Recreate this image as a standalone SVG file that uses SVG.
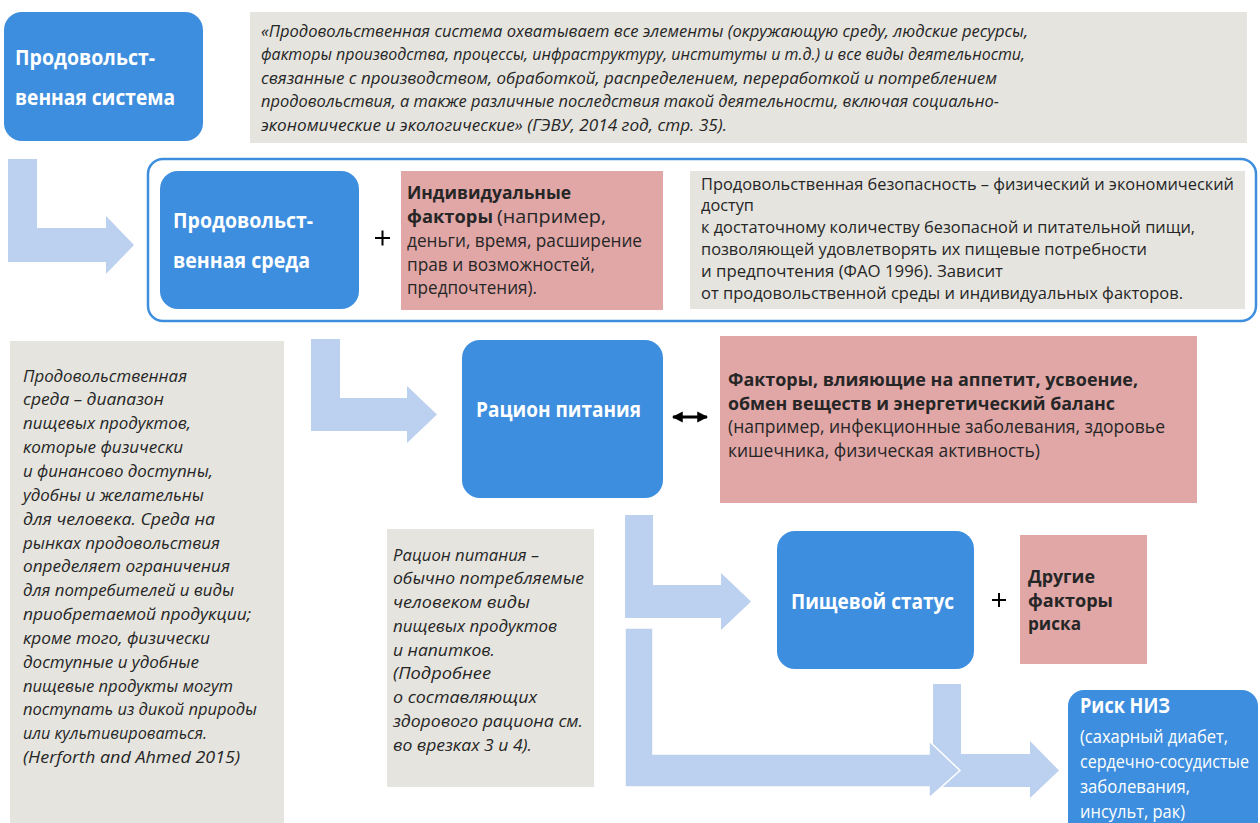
<svg xmlns="http://www.w3.org/2000/svg" width="1260" height="823" viewBox="0 0 1260 823">
<style>
.blue{fill:#3d8ede}
.gray{fill:#e5e4de}
.pink{fill:#e0a7a6}
.arr{fill:#bcd0ef}
.t{font-family:"Open Sans","Noto Sans","Liberation Sans",sans-serif;fill:#262626}
.it{font-style:italic;font-size:17px}
.sec{font-size:15.5px}
.n{font-size:17.5px}
.b{font-weight:bold}
.title{font-family:"Open Sans","Noto Sans","Liberation Sans",sans-serif;font-weight:bold;font-size:21px;fill:#ffffff}
.wt{font-family:"Open Sans","Noto Sans","Liberation Sans",sans-serif;font-size:18px;fill:#ffffff}
</style>
<defs>
<marker id="ah" viewBox="0 0 10 10" refX="9" refY="5" markerWidth="3.6" markerHeight="4" orient="auto-start-reverse" markerUnits="strokeWidth">
<path d="M0,0 L10,5 L0,10 Z" fill="#000"/>
</marker>
</defs>

<g id="connectors">
<polygon class="arr" points="8,159 37,159 37,228 106,228 106,216 134,245 106,274 106,262 8,262"/>
<polygon class="arr" points="311,339 340,339 340,398 407,398 407,386 437,414.5 407,443 407,431 311,431"/>
<polygon class="arr" points="625,515 653,515 653,585 721,585 721,573 751,601.5 721,630 721,618 625,618"/>
<polygon class="arr" points="933,684 961,684 961,754 1030,754 1030,741 1059,770.5 1030,798 1030,787 933,787"/>
<polygon class="arr" points="625,628 653,628 653,754 929,754 929,741 960,770.5 929,798 929,787 625,787" stroke="#ffffff" stroke-width="1.5"/>
<line x1="673" y1="417" x2="707" y2="417" stroke="#000" stroke-width="3" marker-start="url(#ah)" marker-end="url(#ah)"/>
</g>

<g id="food-system">
<rect class="blue" x="4" y="12" width="199" height="129" rx="18"/>
<text class="title" x="15" y="65" textLength="140" lengthAdjust="spacingAndGlyphs">Продовольст-</text>
<text class="title" x="15" y="105" textLength="160" lengthAdjust="spacingAndGlyphs">венная система</text>
</g>

<g id="quote">
<rect class="gray" x="250" y="12" width="997" height="131"/>
<text class="t it" x="261" y="36.5" textLength="767" lengthAdjust="spacingAndGlyphs">«Продовольственная система охватывает все элементы (окружающую среду, людские ресурсы,</text>
<text class="t it" x="261" y="60" textLength="764" lengthAdjust="spacingAndGlyphs">факторы производства, процессы, инфраструктуру, институты и т.д.) и все виды деятельности,</text>
<text class="t it" x="261" y="83.5" textLength="736" lengthAdjust="spacingAndGlyphs">связанные с производством, обработкой, распределением, переработкой и потреблением</text>
<text class="t it" x="261" y="107" textLength="738" lengthAdjust="spacingAndGlyphs">продовольствия, а также различные последствия такой деятельности, включая социально-</text>
<text class="t it" x="261" y="130.5" textLength="466" lengthAdjust="spacingAndGlyphs">экономические и экологические» (ГЭВУ, 2014 год, стр. 35).</text>
</g>

<g id="frame">
<rect x="148" y="159" width="1108" height="162" rx="15" fill="none" stroke="#3d8ede" stroke-width="2.5"/>
</g>

<g id="food-environment">
<rect class="blue" x="160" y="171" width="199" height="138" rx="18"/>
<text class="title" x="173" y="228" textLength="140" lengthAdjust="spacingAndGlyphs">Продовольст-</text>
<text class="title" x="173" y="268" textLength="137" lengthAdjust="spacingAndGlyphs">венная среда</text>
</g>

<g id="plus1">
<path d="M375,238 H390 M382.5,230.5 V245.5" stroke="#000" stroke-width="2"/>
</g>

<g id="individual-factors">
<rect class="pink" x="401" y="171" width="262" height="139"/>
<text class="t n b" x="407" y="199" textLength="164" lengthAdjust="spacingAndGlyphs">Индивидуальные</text>
<text class="t n b" x="407" y="223" textLength="86" lengthAdjust="spacingAndGlyphs">факторы</text>
<text class="t n" x="497" y="223" textLength="109" lengthAdjust="spacingAndGlyphs">(например,</text>
<text class="t n" x="407" y="247" textLength="235" lengthAdjust="spacingAndGlyphs">деньги, время, расширение</text>
<text class="t n" x="407" y="271" textLength="188" lengthAdjust="spacingAndGlyphs">прав и возможностей,</text>
<text class="t n" x="407" y="294" textLength="130" lengthAdjust="spacingAndGlyphs">предпочтения).</text>
</g>

<g id="food-security">
<rect class="gray" x="690" y="171" width="555" height="138"/>
<text class="t sec" x="701" y="190" textLength="533" lengthAdjust="spacingAndGlyphs">Продовольственная безопасность – физический и экономический</text>
<text class="t sec" x="701" y="210.5" textLength="53" lengthAdjust="spacingAndGlyphs">доступ</text>
<text class="t sec" x="701" y="233" textLength="494" lengthAdjust="spacingAndGlyphs">к достаточному количеству безопасной и питательной пищи,</text>
<text class="t sec" x="701" y="255" textLength="446" lengthAdjust="spacingAndGlyphs">позволяющей удовлетворять их пищевые потребности</text>
<text class="t sec" x="701" y="277" textLength="302" lengthAdjust="spacingAndGlyphs">и предпочтения (ФАО 1996). Зависит</text>
<text class="t sec" x="701" y="299" textLength="482" lengthAdjust="spacingAndGlyphs">от продовольственной среды и индивидуальных факторов.</text>
</g>

<g id="food-environment-note">
<rect class="gray" x="10" y="341" width="274" height="482"/>
<text class="t it" x="23" y="381.5" textLength="164" lengthAdjust="spacingAndGlyphs">Продовольственная</text>
<text class="t it" x="23" y="405.4" textLength="141" lengthAdjust="spacingAndGlyphs">среда – диапазон</text>
<text class="t it" x="23" y="429.2" textLength="168" lengthAdjust="spacingAndGlyphs">пищевых продуктов,</text>
<text class="t it" x="23" y="453.1" textLength="160" lengthAdjust="spacingAndGlyphs">которые физически</text>
<text class="t it" x="23" y="476.9" textLength="190" lengthAdjust="spacingAndGlyphs">и финансово доступны,</text>
<text class="t it" x="23" y="500.8" textLength="181" lengthAdjust="spacingAndGlyphs">удобны и желательны</text>
<text class="t it" x="23" y="524.6" textLength="192" lengthAdjust="spacingAndGlyphs">для человека. Среда на</text>
<text class="t it" x="23" y="548.5" textLength="197" lengthAdjust="spacingAndGlyphs">рынках продовольствия</text>
<text class="t it" x="23" y="572.3" textLength="207" lengthAdjust="spacingAndGlyphs">определяет ограничения</text>
<text class="t it" x="23" y="596.2" textLength="211" lengthAdjust="spacingAndGlyphs">для потребителей и виды</text>
<text class="t it" x="23" y="620" textLength="228" lengthAdjust="spacingAndGlyphs">приобретаемой продукции;</text>
<text class="t it" x="23" y="643.9" textLength="187" lengthAdjust="spacingAndGlyphs">кроме того, физически</text>
<text class="t it" x="23" y="667.7" textLength="176" lengthAdjust="spacingAndGlyphs">доступные и удобные</text>
<text class="t it" x="23" y="691.6" textLength="210" lengthAdjust="spacingAndGlyphs">пищевые продукты могут</text>
<text class="t it" x="23" y="715.4" textLength="234" lengthAdjust="spacingAndGlyphs">поступать из дикой природы</text>
<text class="t it" x="23" y="739.3" textLength="184" lengthAdjust="spacingAndGlyphs">или культивироваться.</text>
<text class="t it" x="23" y="763.1" textLength="217" lengthAdjust="spacingAndGlyphs">(Herforth and Ahmed 2015)</text>
</g>

<g id="diet">
<rect class="blue" x="462" y="340" width="201" height="158" rx="18"/>
<text class="title" x="476" y="417" textLength="165" lengthAdjust="spacingAndGlyphs">Рацион питания</text>
</g>

<g id="metabolic-factors">
<rect class="pink" x="720" y="336" width="477" height="167"/>
<text class="t n b" x="728" y="386" textLength="410" lengthAdjust="spacingAndGlyphs">Факторы, влияющие на аппетит, усвоение,</text>
<text class="t n b" x="728" y="409.5" textLength="387" lengthAdjust="spacingAndGlyphs">обмен веществ и энергетический баланс</text>
<text class="t n" x="728" y="433" textLength="437" lengthAdjust="spacingAndGlyphs">(например, инфекционные заболевания, здоровье</text>
<text class="t n" x="728" y="456.5" textLength="312" lengthAdjust="spacingAndGlyphs">кишечника, физическая активность)</text>
</g>

<g id="diet-note">
<rect class="gray" x="387" y="529" width="207" height="258"/>
<text class="t it" x="393" y="560.5" textLength="146" lengthAdjust="spacingAndGlyphs">Рацион питания –</text>
<text class="t it" x="393" y="584.3" textLength="191" lengthAdjust="spacingAndGlyphs">обычно потребляемые</text>
<text class="t it" x="393" y="608" textLength="137" lengthAdjust="spacingAndGlyphs">человеком виды</text>
<text class="t it" x="393" y="631.8" textLength="164" lengthAdjust="spacingAndGlyphs">пищевых продуктов</text>
<text class="t it" x="393" y="655.5" textLength="102" lengthAdjust="spacingAndGlyphs">и напитков.</text>
<text class="t it" x="393" y="679.3" textLength="98" lengthAdjust="spacingAndGlyphs">(Подробнее</text>
<text class="t it" x="393" y="703" textLength="144" lengthAdjust="spacingAndGlyphs">о составляющих</text>
<text class="t it" x="393" y="726.8" textLength="190" lengthAdjust="spacingAndGlyphs">здорового рациона см.</text>
<text class="t it" x="393" y="750.5" textLength="139" lengthAdjust="spacingAndGlyphs">во врезках 3 и 4).</text>
</g>

<g id="nutrition-status">
<rect class="blue" x="777" y="531" width="197" height="138" rx="18"/>
<text class="title" x="791" y="609" textLength="163" lengthAdjust="spacingAndGlyphs">Пищевой статус</text>
</g>

<g id="plus2">
<path d="M992,600 H1006 M999,593 V607" stroke="#000" stroke-width="2"/>
</g>

<g id="other-risk">
<rect class="pink" x="1020" y="535" width="127" height="129"/>
<text class="t b" x="1028" y="583" font-size="18" textLength="67" lengthAdjust="spacingAndGlyphs">Другие</text>
<text class="t b" x="1028" y="607" font-size="18" textLength="85" lengthAdjust="spacingAndGlyphs">факторы</text>
<text class="t b" x="1028" y="630" font-size="18" textLength="53" lengthAdjust="spacingAndGlyphs">риска</text>
</g>

<g id="ncd-risk">
<rect class="blue" x="1068" y="690" width="190" height="160" rx="16"/>
<text class="title" x="1080" y="713" textLength="90" lengthAdjust="spacingAndGlyphs">Риск НИЗ</text>
<text class="wt" x="1080" y="743" textLength="148" lengthAdjust="spacingAndGlyphs">(сахарный диабет,</text>
<text class="wt" x="1080" y="768" textLength="169" lengthAdjust="spacingAndGlyphs">сердечно-сосудистые</text>
<text class="wt" x="1080" y="793" textLength="110" lengthAdjust="spacingAndGlyphs">заболевания,</text>
<text class="wt" x="1080" y="818" textLength="105" lengthAdjust="spacingAndGlyphs">инсульт, рак)</text>
</g>
</svg>
